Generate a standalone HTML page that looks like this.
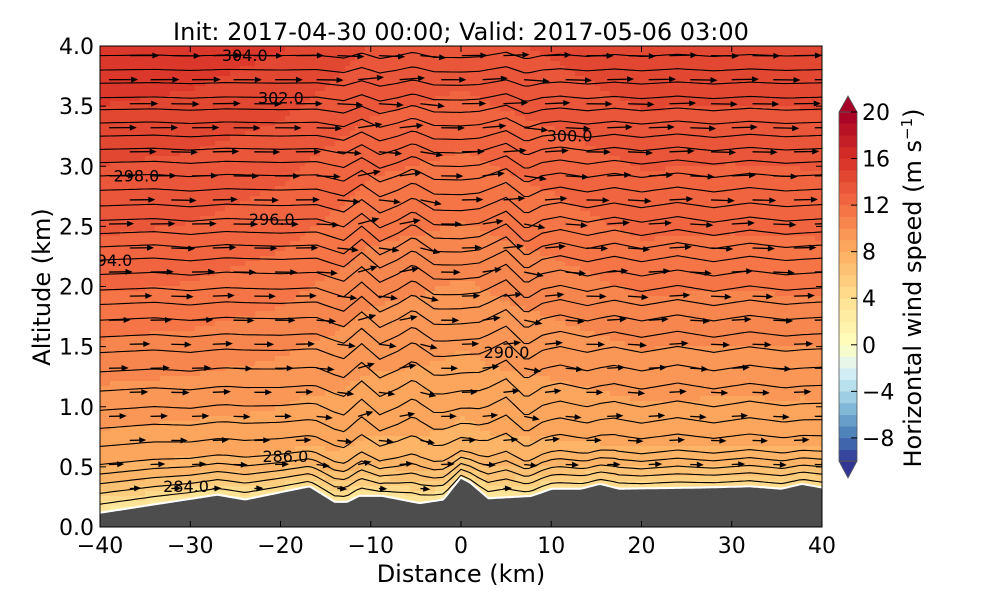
<!DOCTYPE html>
<html><head><meta charset="utf-8"><style>
html,body{margin:0;padding:0;background:#fff;}
svg text{font-family:"DejaVu Sans","Liberation Sans",sans-serif;}
</style></head><body>
<svg id="chart" width="1000" height="600" viewBox="0 0 1000 600" xmlns="http://www.w3.org/2000/svg">
<defs><clipPath id="plotclip"><rect x="100" y="46" width="722" height="481"/></clipPath></defs>
<text x="461" y="40" font-size="24" text-anchor="middle">Init: 2017-04-30 00:00; Valid: 2017-05-06 03:00</text>
<g id="field" clip-path="url(#plotclip)"></g>
<g id="isen" clip-path="url(#plotclip)"></g>
<g id="quiver" clip-path="url(#plotclip)"></g>
<g id="terrain" clip-path="url(#plotclip)"></g>
<g id="clabels" clip-path="url(#plotclip)"></g>
<rect x="100" y="46" width="722" height="481" fill="none" stroke="#000" stroke-width="1"/>
<g id="axes"></g>
<text x="461" y="582" font-size="24" text-anchor="middle">Distance (km)</text>
<text transform="translate(50,287) rotate(-90)" font-size="24" text-anchor="middle">Altitude (km)</text>
<g id="cbar"></g>
<text transform="translate(921,288) rotate(-90)" font-size="24" text-anchor="middle">Horizontal wind speed (m s<tspan font-size="15" dy="-9">−1</tspan><tspan dy="9">)</tspan></text>
</svg>
<script>
// ---- data ----
const terrainX = [-40,-34.8,-27,-23.9,-16.8,-14,-12.6,-11.3,-8.7,-4.6,-1.9,0,1,3,7.8,10.1,13.3,15.4,17.5,26.9,32,35.5,37.8,40];
const terrainZ = [0.11,0.17,0.26,0.22,0.33,0.20,0.20,0.25,0.25,0.19,0.22,0.40,0.36,0.23,0.25,0.31,0.31,0.35,0.31,0.32,0.33,0.31,0.35,0.32];
const waveX = [-40,-34,-30,-26,-20,-16,-13,-11,-9,-7,-5.3,-3,0,2,5,7.2,9,11,14,17,20,24,28,32,36,40];
const waveDisp = [0,0.015,-0.01,0.015,0,0.01,-0.06,0.06,-0.07,0,0.08,-0.04,-0.05,-0.03,0.08,-0.08,0,0.03,-0.02,0.025,-0.02,0.03,-0.02,0.025,-0.01,0.01];
const thetaLevels = [283.33,284,284.67,285.33,286,286.67,287.33,288,288.67,289.33,290,290.67,291.33,292,292.67,293.33,294,294.67,295.33,296,296.67,297.33,298,298.67,299.33,300,300.67,301.33,302,302.67,303.33,304,304.67];
const thetaBaseAlt = [0.19,0.28,0.36,0.44,0.52,0.67,0.82,0.97,1.13,1.29,1.45,1.58,1.72,1.85,1.97,2.10,2.22,2.33,2.44,2.55,2.67,2.80,2.92,3.03,3.14,3.25,3.36,3.47,3.57,3.69,3.80,3.92,4.03];
const speedAlt = [0,0.08,0.18,0.3,0.5,1,1.5,2,2.5,3,3.5,4];
const speedVal = [2,3.5,5.5,7,8,9,10,11,12,12.8,13.8,14.6];
const speedModX = [-40,-30,-20,-10,0,10,20,30,40];
const speedModV = [1.2,1,0.5,-0.6,-1,-0.4,0.3,0.2,0.3];
const xTicks = [-40,-30,-20,-10,0,10,20,30,40];
const yTicks = [0,0.5,1,1.5,2,2.5,3,3.5,4];
const cbTicks = [-8,-4,0,4,8,12,16,20];
const labelTheta = [284,286,290,294,296,298,300,302,304];
const labelX = [-33,-22,2.5,-41.5,-23.5,-38.5,9.5,-22.5,-26.5];
// ---- scales ----
const NS='http://www.w3.org/2000/svg';
const X=k=>100+(k+40)*9.025, Y=z=>527-z*120.25;
function interp(xs,ys,x){if(x<=xs[0])return ys[0];for(let i=1;i<xs.length;i++){if(x<=xs[i]){const t=(x-xs[i-1])/(xs[i]-xs[i-1]);return ys[i-1]+t*(ys[i]-ys[i-1]);}}return ys[ys.length-1];}
const T=x=>interp(terrainX,terrainZ,x);
const D=x=>interp(waveX,waveDisp,x);
function ampAt(base){return Math.min(1,base/0.9)*(base>2.4?Math.max(0.35,1-(base-2.4)/2):1);}
function lineZ(base,x){const w=Math.exp(-(base-0.1)/0.6);let z=base+(T(x)-0.11)*w+D(x)*ampAt(base);return Math.max(z,T(x)+0.03);}
const cStops=[[-10,[49,54,149]],[-8,[69,117,180]],[-6,[116,173,209]],[-4,[171,217,233]],[-2,[224,243,248]],[0,[255,255,191]],[4,[254,224,144]],[8,[253,174,97]],[12,[244,109,67]],[16,[215,48,39]],[20,[165,0,38]]];
function cmap(v){v=Math.max(-10,Math.min(20,v));for(let i=1;i<cStops.length;i++){if(v<=cStops[i][0]){const a=cStops[i-1],b=cStops[i];const t=(v-a[0])/(b[0]-a[0]);const c=a[1].map((q,j)=>Math.round(q+t*(b[1][j]-q)));return `rgb(${c[0]},${c[1]},${c[2]})`;}}return 'rgb(165,0,38)';}
function speed(x,z){const hag=Math.max(0,z-T(x)*Math.exp(-z/1.2));return interp(speedAlt,speedVal,hag)+interp(speedModX,speedModV,x)*Math.min(1,z/2);}
function mk(tag,attrs,parent){const e=document.createElementNS(NS,tag);for(const k in attrs)e.setAttribute(k,attrs[k]);parent.appendChild(e);return e;}
// ---- field ----
const field=document.getElementById('field');
for(let px=100;px<822;px+=5){for(let py=46;py<527;py+=5){const x=(px+2.5-100)/9.025-40,z=(527-py-2.5)/120.25;const v=Math.floor(speed(x,z));const r=mk('rect',{x:px,y:py,width:5.6,height:5.6,fill:cmap(v+0.5)},field);

}}
// ---- isentropes ----
const isen=document.getElementById('isen');
thetaLevels.forEach((th,i)=>{let d='';for(let x=-40;x<=40.01;x+=0.5){d+=(x===-40?'M':'L')+X(x).toFixed(1)+','+Y(lineZ(thetaBaseAlt[i],x)).toFixed(1);}
const p=mk('path',{d:d,fill:'none',stroke:'#000','stroke-width':1.1},isen);

});
// ---- quiver ----
const qv=document.getElementById('quiver');
let row=0;
for(let z=0.12;z<4.05;z+=0.2,row++){for(let x=-39+(row%2)*2.3;x<40;x+=4.6){if(z<T(x)+0.05)continue;const base=z;const a=ampAt(base);const slope=(D(x+0.4)-D(x-0.4))/0.8*a+(T(x+0.4)-T(x-0.4))/0.8*Math.exp(-(base-0.1)/0.6);
const ang=Math.atan(slope*120.25/9.025*0.35);const L=speed(x,z)*1.9;const x0=X(x),y0=Y(z);const dx=Math.cos(ang)*L,dy=-Math.sin(ang)*L;const x1=x0+dx,y1=y0+dy;const ux=dx/L,uy=dy/L;
const g=mk('g',{},qv);


mk('line',{x1:x0,y1:y0,x2:x1-ux*5,y2:y1-uy*5,stroke:'#000','stroke-width':1.3},g);
mk('polygon',{points:`${x1},${y1} ${x1-ux*7+uy*3},${y1-uy*7-ux*3} ${x1-ux*7-uy*3},${y1-uy*7+ux*3}`,fill:'#000'},g);}}
// ---- terrain ----
const ter=document.getElementById('terrain');
let td='M100,527';for(let x=-40;x<=40.01;x+=0.25){td+='L'+X(x).toFixed(1)+','+Y(T(x)).toFixed(1);}td+='L822,527Z';
mk('path',{d:td,fill:'none',stroke:'#fff','stroke-width':4},ter);
const tp=mk('path',{d:td,fill:'#4d4d4d'},ter);


// ---- contour labels ----
const cl=document.getElementById('clabels');
labelTheta.forEach((th,i)=>{const idx=thetaLevels.indexOf(th);const x=labelX[i];const z=lineZ(thetaBaseAlt[idx],x);
const t=mk('text',{x:X(x),y:Y(z)+6,'font-size':16,'text-anchor':'start'},cl);t.textContent=th.toFixed(1);

});
// ---- axes ----
const ax=document.getElementById('axes');
xTicks.forEach(v=>{const px=X(v);mk('line',{x1:px,y1:527,x2:px,y2:521,stroke:'#000'},ax);mk('line',{x1:px,y1:46,x2:px,y2:52,stroke:'#000'},ax);
const t=mk('text',{x:px,y:553,'font-size':22,'text-anchor':'middle'},ax);t.textContent=(v<0?'−':'')+Math.abs(v);

});
yTicks.forEach(v=>{const py=Y(v);mk('line',{x1:100,y1:py,x2:106,y2:py,stroke:'#000'},ax);mk('line',{x1:822,y1:py,x2:816,y2:py,stroke:'#000'},ax);
const t=mk('text',{x:94,y:py+8,'font-size':22,'text-anchor':'end'},ax);t.textContent=v.toFixed(1);

});
// ---- colorbar ----
const cb=document.getElementById('cbar');const CY=v=>112+(20-v)*11.64;
for(let v=-10;v<20;v++){const r=mk('rect',{x:839,y:CY(v+1),width:18,height:11.9,fill:cmap(v+0.5)},cb);

}
mk('polygon',{points:`839,112 857,112 848,96`,fill:cmap(20),stroke:'#555','stroke-width':0.8},cb);
mk('polygon',{points:`839,${CY(-10)} 857,${CY(-10)} 848,478`,fill:cmap(-10),stroke:'#555','stroke-width':0.8},cb);
mk('rect',{x:839,y:112,width:18,height:CY(-10)-112,fill:'none',stroke:'#555','stroke-width':0.8},cb);
cbTicks.forEach(v=>{const py=CY(v);mk('line',{x1:851,y1:py,x2:857,y2:py,stroke:'#000'},cb);
const t=mk('text',{x:862,y:py+8,'font-size':22},cb);t.textContent=(v<0?'−':'')+Math.abs(v);

});
</script>
</body></html>
